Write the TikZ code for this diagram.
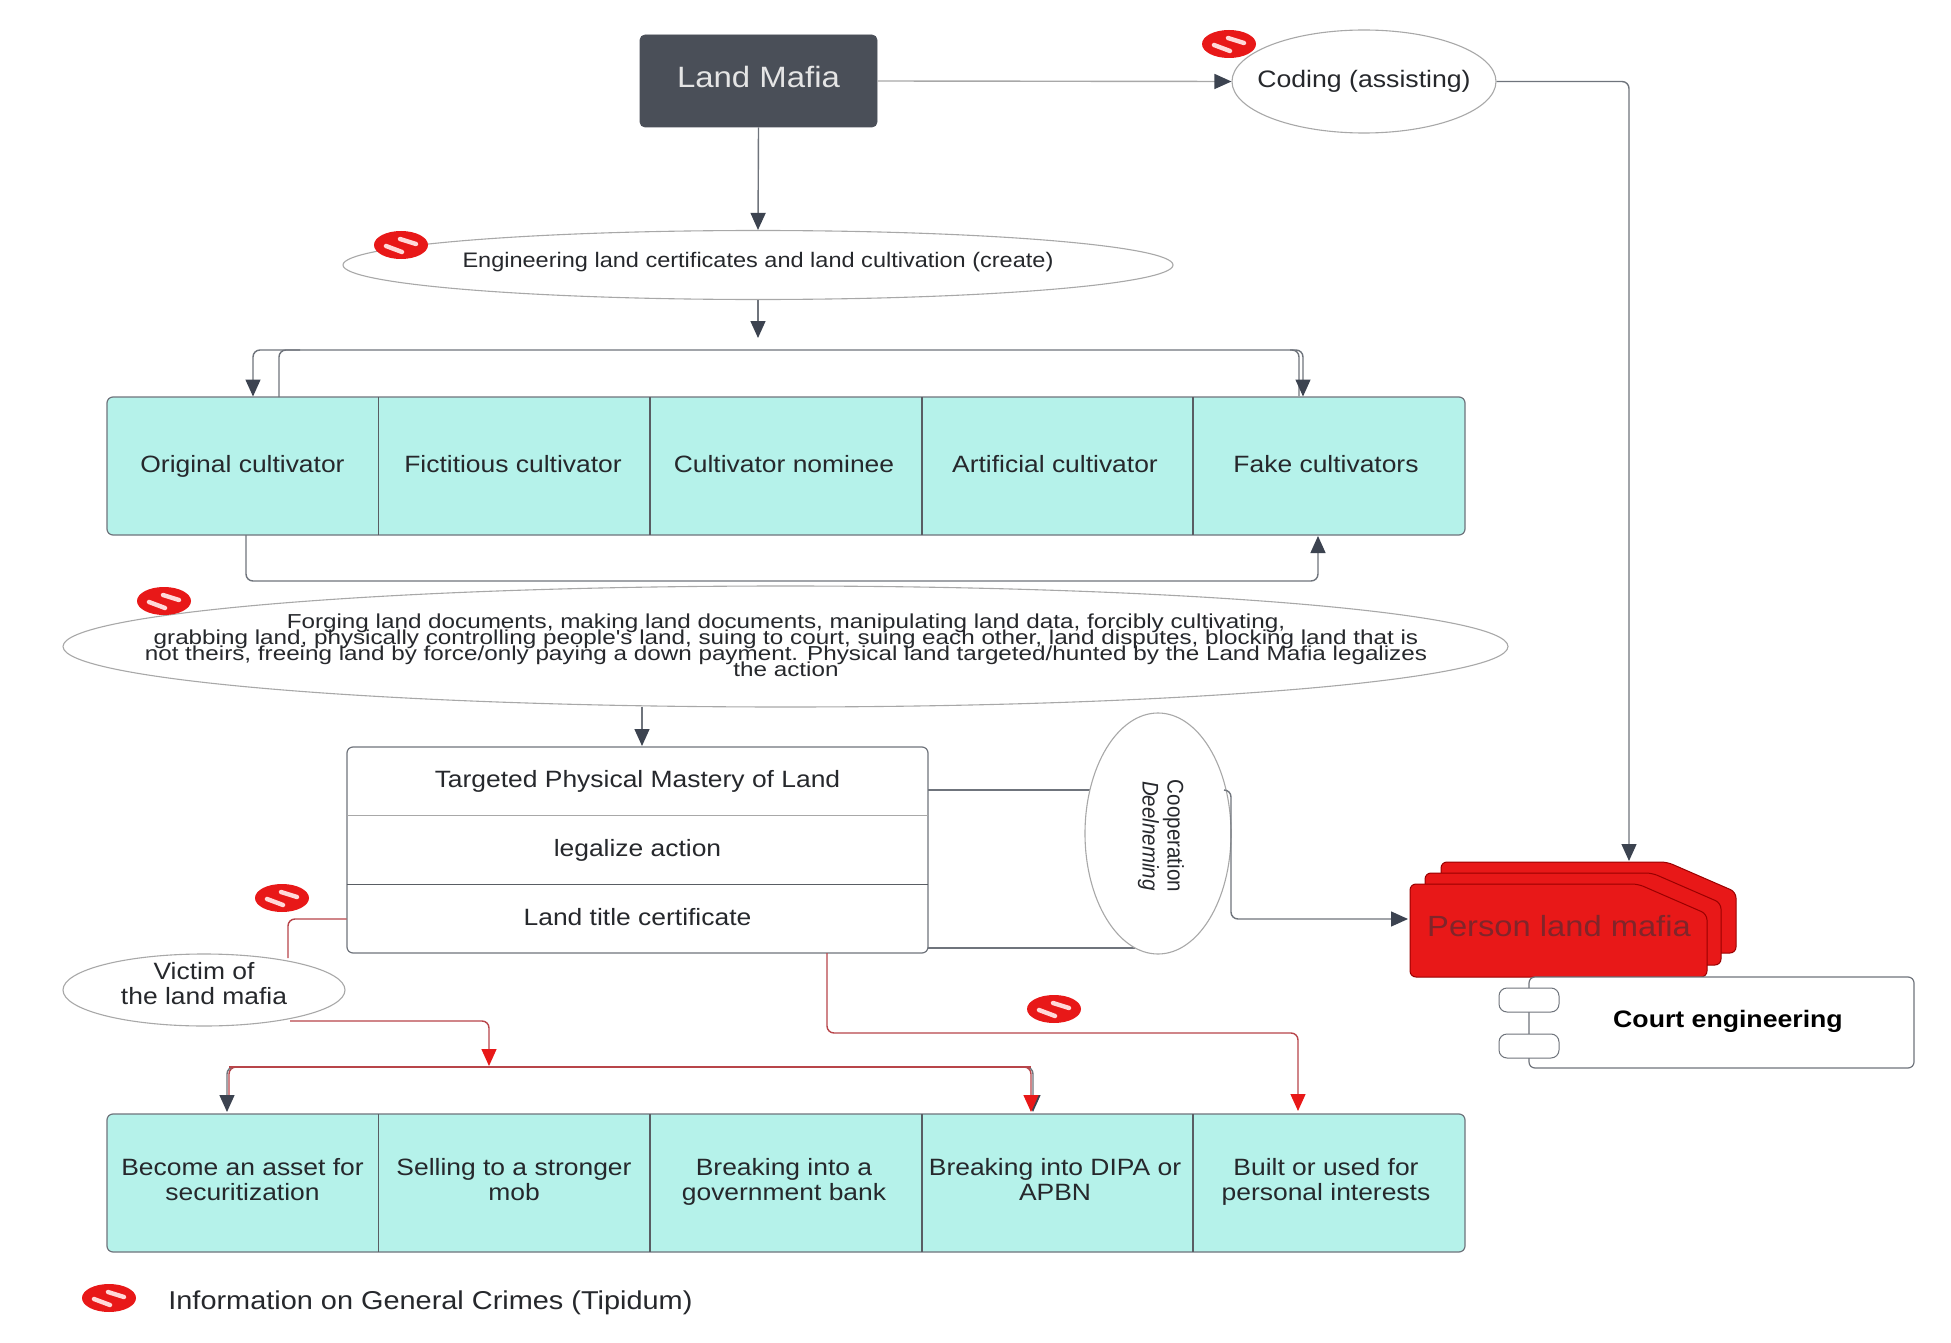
\documentclass[tikz,border=0pt]{standalone}
\usepackage{graphicx}
\usepackage{fontspec}
\setmainfont{Liberation Sans}
\usetikzlibrary{arrows.meta,shapes.geometric,calc}
\definecolor{cyanfill}{HTML}{B5F2EA}
\definecolor{darkbox}{HTML}{4A4F58}
\definecolor{linegrey}{HTML}{6F747C}
\definecolor{lightline}{HTML}{A8A8A8}
\definecolor{tipdark}{HTML}{3C4350}
\definecolor{redline}{HTML}{B8454A}
\definecolor{redtip}{HTML}{E81818}
\definecolor{txt}{HTML}{26282C}
\definecolor{persontxt}{HTML}{80252A}
\newcommand{\sa}{\rule[-4pt]{0pt}{13pt}}
\newcommand{\sone}{\rule[-3.5pt]{0pt}{13.5pt}}
\newcommand{\tightls}{\lineskiplimit=-20pt\relax}
\newcommand{\wider}[1]{\scalebox{1.12}[1]{#1}}
\newcommand{\widest}[1]{\scalebox{1.2}[1]{#1}}
\tikzset{
  fs/.style={font=\fontsize{#1}{12.5}\selectfont\tightls},
  fl/.style 2 args={font=\fontsize{#1}{#2}\selectfont\tightls},
  tipd/.style={-{Triangle[length=8.5pt,width=7.5pt,fill=tipdark,color=tipdark]}},
  conn/.style={draw=linegrey,line width=0.7pt,rounded corners=3.5pt,tipd},
  plain/.style={draw=linegrey,line width=0.7pt,rounded corners=3.5pt},
  redconn/.style={draw=redline,line width=0.7pt,rounded corners=3.5pt,-{Triangle[length=8.5pt,width=7.5pt,fill=redtip,color=redtip]}},
  redplain/.style={draw=redline,line width=0.7pt,rounded corners=3.5pt},
  oval/.style={ellipse,draw=lightline,line width=0.55pt,fill=white,inner sep=0pt},
  ovaltext/.style={inner sep=0pt,text=txt,align=center},
  cell/.style={rectangle,minimum height=69pt,inner sep=0pt,align=center,text=txt,fs=11.8},
  rowcell/.style={rectangle,minimum width=290.5pt,minimum height=34pt,inner sep=0pt,text=txt,fs=11.8},
  lanebox/.style={draw=linegrey,line width=0.6pt,fill=cyanfill,rounded corners=3pt},
  divider/.style={draw=linegrey!80!black,line width=0.6pt},
  cardbox/.style={fill=redtip,draw=red!60!black,line width=0.5pt,rounded corners=3pt},
  tabbox/.style={rectangle,draw=linegrey,line width=0.5pt,fill=white,rounded corners=4pt,minimum width=30pt,minimum height=12pt,inner sep=0pt},
  nosign/.pic={
    \fill[redtip] (0,0) ellipse (27 and 14);
    \draw[white!85!red,line width=2.2pt,line cap=round] (-15,1) -- (1,7);
    \draw[white!85!red,line width=2.2pt,line cap=round] (-1,-6) -- (15,-1);
  }
}
\newcommand{\cardpath}[4]{\path[cardbox] (#1,#4) -- (#1,#2) -- ({#3-69},#2) -- (#3,{#2+30}) -- (#3,#4) -- cycle;}
\begin{document}
\begin{tikzpicture}[x=0.5pt,y=-0.5pt]
\path[use as bounding box,fill=white] (0,0) rectangle (1951,1343);

% top
\node[rectangle,fill=darkbox,draw=darkbox,rounded corners=2.5pt,minimum width=118.5pt,minimum height=46pt,text=white!90!black,fs=14.7] (mafia) at (758.5,81) {\raisebox{4pt}{\wider{Land Mafia}}};
\node[oval,minimum width=132pt,minimum height=51.5pt] (coding) at (1364,81.5) {};
\node[ovaltext,fs=11.9] (codingtext) at (1364,81.5) {\wider{Coding (assisting)}};
\node[oval,minimum width=415pt,minimum height=34.5pt] (engineering) at (758,265) {};
\node[ovaltext,fs=10.5] (engtext) at (758,262.5) {\wider{Engineering land certificates and land cultivation (create)}};

% top lane
\path[lanebox] (107,397) rectangle (1465,535);
\node[cell] (c1) at (242.5,466) {\wider{\sone Original cultivator}};
\node[cell] (c2) at (513,466) {\wider{\sone Fictitious cultivator}};
\node[cell] (c3) at (784,466) {\wider{\sone Cultivator nominee}};
\node[cell] (c4) at (1055,466) {\wider{\sone Artificial cultivator}};
\node[cell] (c5) at (1326,466) {\wider{\sone Fake cultivators}};
\foreach \x in {378.5,650,922,1193} \draw[divider] (\x,397) -- (\x,535);

% big ellipse
\node[oval,minimum width=722.5pt,minimum height=60.5pt] (forging) at (785.5,646.5) {};
\node[ovaltext,fl={10.1}{8}] (forgingtext) at (786,645) {\widest{Forging land documents, making land documents, manipulating land data, forcibly cultivating,}\\\widest{grabbing land, physically controlling people\textquotesingle s land, suing to court, suing each other, land disputes, blocking land that is}\\\widest{not theirs, freeing land by force/only paying a down payment. Physical land targeted/hunted by the Land Mafia legalizes}\\\widest{the action}};

% table
\path[draw=linegrey,line width=0.6pt,fill=white,rounded corners=3pt] (347,747) rectangle (928,953);
\node[rowcell] (r1) at (637.5,781) {\wider{\sone Targeted Physical Mastery of Land}};
\node[rowcell] (r2) at (637.5,850) {\wider{\sone legalize action}};
\node[rowcell] (r3) at (637.5,919) {\wider{\sone Land title certificate}};
\draw[lightline,line width=0.5pt] (r1.south west) -- (r1.south east);
\draw[divider] (r2.south west) -- (r2.south east);

% cooperation
\coordinate (coopin1) at (1100,790);
\coordinate (coopin2) at (1135,948);
\draw[plain] (r1.east |- coopin1) -- (coopin1);
\draw[plain] (r3.east |- coopin2) -- (coopin2);
\node[oval,minimum width=73pt,minimum height=120.5pt] (coop) at (1158,833.5) {};
\node[rotate=-90,align=center,text=txt,inner sep=0pt,fl={11.3}{12.5}] (cooptext) at (1161,836) {\scalebox{0.91}[1]{Cooperation}\\\scalebox{0.91}[1]{\textit{Deelneming}}};

% person
\cardpath{1441}{862}{1736}{953}
\cardpath{1425}{873}{1721}{965}
\cardpath{1410}{884}{1707}{977}
\node[text=persontxt,fs=14.6,inner sep=0pt] (person) at (1559,926) {\wider{Person land mafia}};
\coordinate (persontop) at (1629,861);
\coordinate (personleft) at (1408,919);

% court
\path[draw=linegrey,line width=0.6pt,fill=white,rounded corners=3pt] (1529,977) rectangle (1914,1068);
\node[tabbox] (tab1) at (1529,1000) {};
\node[tabbox] (tab2) at (1529,1046) {};
\node[text=black,font=\fontsize{11.9}{16}\selectfont\bfseries] (court) at (1728,1021.5) {\wider{Court engineering}};

% victim
\node[oval,minimum width=141pt,minimum height=36pt] (victim) at (204,990) {};
\node[ovaltext,fl={11.8}{12.5}] (victimtext) at (204,984) {\wider{Victim of}\\\wider{the land mafia}};

% bottom lane
\path[lanebox] (107,1114) rectangle (1465,1252);
\node[cell] (b1) at (242.5,1183) {\wider{\sa Become an asset for}\\\wider{\sa securitization}};
\node[cell] (b2) at (514,1183) {\wider{\sa Selling to a stronger}\\\wider{\sa mob}};
\node[cell] (b3) at (784,1183) {\wider{\sa Breaking into a}\\\wider{\sa government bank}};
\node[cell] (b4) at (1055,1183) {\wider{\sa Breaking into DIPA or}\\\wider{\sa APBN}};
\node[cell] (b5) at (1326,1183) {\wider{\sa Built or used for}\\\wider{\sa personal interests}};
\foreach \x in {378.5,650,922,1193} \draw[divider] (\x,1114) -- (\x,1252);

% connectors
\coordinate (codingcorner) at (1629,81.5);
\draw[conn,draw=lightline] (mafia.east) -- (coding.west);
\draw[conn] (coding.east) -- (codingcorner) -- (persontop);
\draw[conn] (mafia.south) -- (engineering.north);
\coordinate (split) at (758,338);
\draw[conn] (engineering.south) -- (split);
\draw[plain] (279,397) -- (279,350) -- (1299,350) -- (1299,396);
\draw[conn] (1290,350) -- (1303,350) -- (1303,396.5);
\draw[conn] (300,350) -- (253,350) -- (253,396.5);
\draw[conn] (246,535) -- (246,581) -- (1318,581) -- (1318,536);
\draw[conn] (642,706.5) -- (642,746);
\draw[conn] (1224,790) -- (1231,790) -- (1231,919) -- (personleft);

% red connectors
\draw[redplain] (r3.west) -- (288,919) -- (288,958);
\draw[redconn] (290,1021) -- (489,1021) -- (489,1066);
\draw[conn] (1000,1067) -- (1033,1067) -- (1033,1112);
\draw[redconn] (1000,1067) -- (1031,1067) -- (1031,1112);
\draw[redplain] (500,1067) -- (229,1067) -- (229,1100);
\draw[conn] (300,1067) -- (227,1067) -- (227,1112);
\draw[redplain] (229,1067) -- (1031,1067);
\draw[redconn] (827,953) -- (827,1033) -- (1298,1033) -- (1298,1111);

% no signs
\pic at (1229,44) {nosign};
\pic at (401,245) {nosign};
\pic at (164,601) {nosign};
\pic at (282,898) {nosign};
\pic at (1054,1009) {nosign};
\pic at (109,1298) {nosign};

% legend
\node[anchor=west,inner sep=0pt,text=txt,fs=12.9] (legend) at (168,1302.5) {\wider{Information on General Crimes (Tipidum)}};
\end{tikzpicture}
\end{document}
